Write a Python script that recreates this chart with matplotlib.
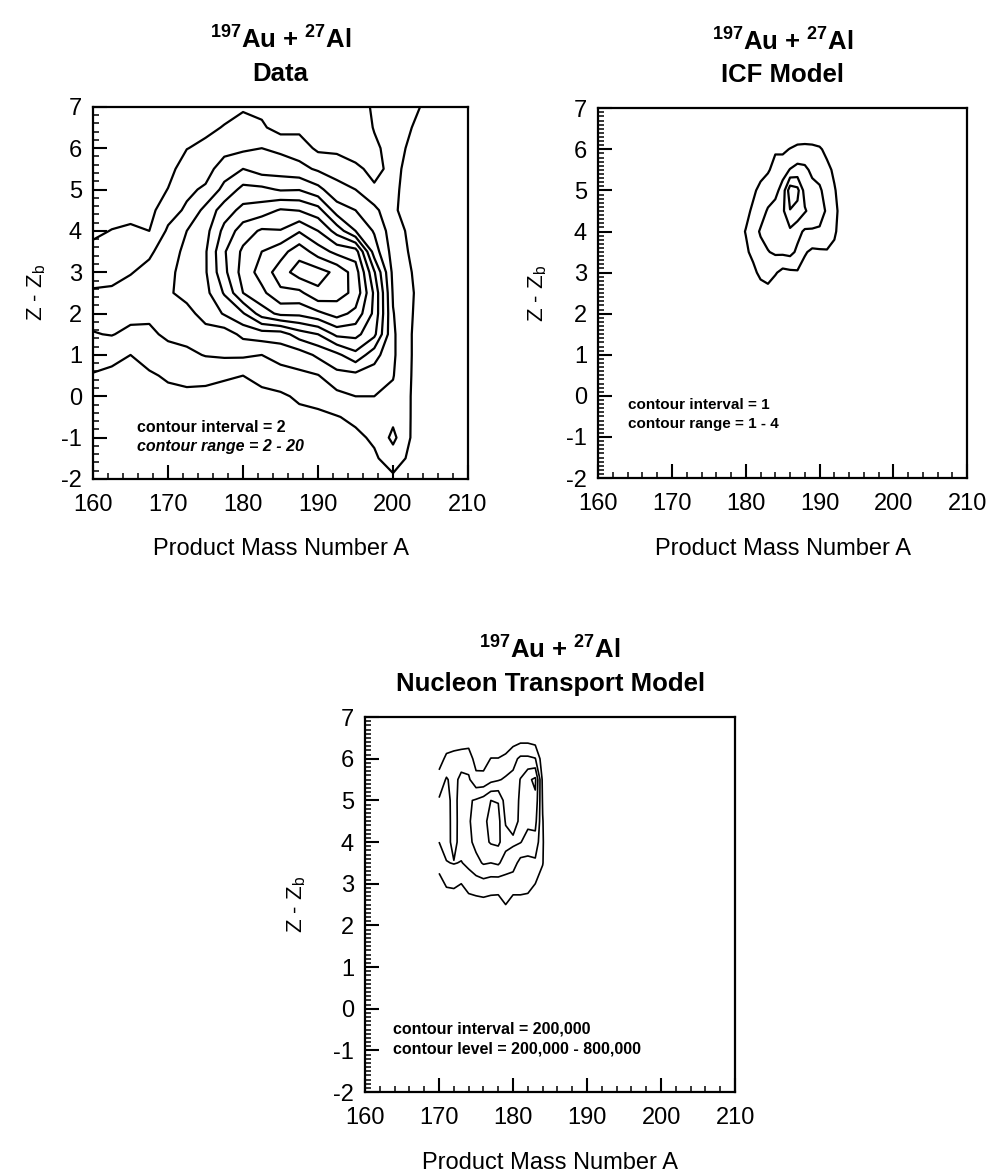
import numpy as np
import matplotlib
matplotlib.use('Agg')
import matplotlib.pyplot as plt
from matplotlib.ticker import MultipleLocator

plt.rcParams['font.family'] = 'Liberation Sans'
plt.rcParams['mathtext.fontset'] = 'custom'
plt.rcParams['mathtext.rm'] = 'Liberation Sans'
plt.rcParams['mathtext.bf'] = 'Liberation Sans:bold'
plt.rcParams['mathtext.it'] = 'Liberation Sans:italic'
plt.rcParams['axes.unicode_minus'] = False

# --- measured yields: one list per mass column, Z - Zb from -2 to 7 in steps of 0.5
data_mass = np.arange(160, 210.1, 2.5)
data_z = np.arange(-2, 7.01, 0.5)
data_counts = [
    [0.2, 0.3, 0.5, 0.8, 1.3, 1.85, 2.9, 3.9, 4.6, 4.2, 3.3, 2.4, 1.7, 1.2, 0.9, 0.6, 0.4, 0.3, 0.2],       # 160
    [0.2, 0.3, 0.5, 0.8, 1.2, 1.6, 2.5, 4.1, 4.8, 4.3, 3.4, 2.8, 2.05, 1.4, 1.0, 0.7, 0.5, 0.3, 0.2],      # 162.5
    [0.2, 0.3, 0.5, 0.8, 1.1, 1.5, 2.0, 3.5, 4.6, 4.7, 3.9, 3.0, 2.25, 1.5, 1.0, 0.7, 0.5, 0.3, 0.2],      # 165
    [0.2, 0.3, 0.6, 0.9, 1.3, 1.8, 2.6, 3.6, 4.4, 4.9, 4.5, 3.7, 2.0, 1.4, 1.0, 0.7, 0.5, 0.3, 0.2],       # 167.5
    [0.2, 0.4, 0.7, 1.1, 1.6, 2.2, 3.2, 4.4, 5.3, 5.8, 5.5, 4.9, 4.3, 3.2, 2.05, 1.4, 0.9, 0.6, 0.4],      # 170
    [0.2, 0.4, 0.8, 1.2, 1.6, 2.5, 3.6, 4.6, 5.5, 6.5, 6.8, 6.6, 6.0, 4.3, 3.6, 2.9, 1.95, 1.2, 0.7],      # 172.5
    [0.2, 0.4, 0.8, 1.2, 1.5, 2.5, 4.1, 5.4, 6.6, 7.4, 7.8, 7.8, 7.3, 6.6, 4.3, 3.2, 2.4, 1.6, 1.1],       # 175
    [0.2, 0.4, 0.8, 1.2, 1.4, 2.2, 4.3, 5.0, 8.2, 10.2, 11.5, 11.8, 10.6, 9.0, 6.6, 5.0, 3.3, 2.1, 1.4],   # 177.5
    [0.2, 0.4, 0.8, 1.3, 1.6, 2.0, 4.3, 6.5, 9.8, 14.0, 14.8, 14.4, 13.0, 10.6, 8.6, 6.0, 3.6, 2.6, 1.8],  # 180
    [0.2, 0.4, 0.8, 1.2, 1.6, 2.5, 4.0, 7.0, 13.0, 15.5, 16.8, 16.0, 14.3, 11.0, 8.5, 5.0, 4.0, 2.3, 1.5], # 182.5
    [0.2, 0.4, 0.7, 1.1, 1.7, 3.1, 4.8, 7.0, 14.5, 17.6, 19.0, 17.2, 14.1, 12.2, 7.8, 5.0, 3.6, 1.2, 0.8], # 185
    [0.2, 0.5, 0.9, 1.5, 2.3, 3.6, 5.0, 9.0, 14.5, 17.5, 21.0, 19.2, 15.8, 11.9, 7.9, 4.6, 3.0, 1.5, 0.9], # 187.5
    [0.2, 0.6, 1.1, 1.5, 2.8, 3.9, 6.4, 10.0, 15.5, 19.6, 20.8, 17.0, 14.0, 10.8, 6.6, 3.7, 1.6, 1.0, 0.7],# 190
    [0.3, 0.7, 1.2, 1.9, 3.4, 5.4, 7.5, 12.5, 16.8, 18.8, 19.5, 15.4, 11.2, 7.0, 4.6, 3.3, 1.5, 1.0, 0.7], # 192.5
    [0.3, 0.8, 1.6, 2.4, 4.0, 5.4, 9.4, 12.6, 15.4, 17.5, 17.0, 15.0, 8.0, 6.0, 4.0, 2.3, 1.3, 0.9, 0.7],  # 195
    [0.5, 1.7, 2.3, 3.0, 4.0, 5.0, 6.8, 10.5, 11.5, 11.6, 10.2, 7.0, 5.8, 4.6, 2.2, 1.6, 1.7, 2.1, 2.4],   # 197.5
    [1.6, 3.0, 4.5, 3.5, 3.6, 4.1, 4.3, 4.3, 4.1, 3.8, 3.5, 3.2, 2.9, 2.2, 2.3, 2.4, 2.6, 2.8, 3.0],       # 200
    [0.8, 1.5, 1.8, 1.9, 1.9, 1.95, 2.0, 2.0, 2.05, 2.1, 2.0, 1.7, 1.5, 1.4, 1.4, 1.5, 1.7, 2.0, 2.4],     # 202.5
    [0.5, 0.8, 1.0, 1.1, 1.1, 1.1, 1.2, 1.2, 1.2, 1.2, 1.1, 1.0, 0.9, 0.9, 0.9, 1.0, 1.1, 1.3, 1.5],       # 205
    [0.3, 0.5, 0.6, 0.7, 0.7, 0.7, 0.8, 0.8, 0.8, 0.8, 0.7, 0.7, 0.6, 0.6, 0.6, 0.7, 0.8, 0.9, 1.0],       # 207.5
    [0.2, 0.3, 0.4, 0.5, 0.5, 0.5, 0.5, 0.5, 0.5, 0.5, 0.5, 0.5, 0.4, 0.4, 0.4, 0.5, 0.5, 0.6, 0.7],       # 210
]
data_levels = [2, 4, 6, 8, 10, 12, 14, 16, 18, 20]

# --- ICF model: one list per Z - Zb row (2.5 .. 6.5), mass 178 .. 194
icf_mass = np.arange(178, 194.1, 1)
icf_z = np.arange(2.5, 6.51, 0.5)
icf_counts = [
    [0, 0, 0.1, 0.2, 0.4, 0.5, 0.3, 0.2, 0.2, 0.2, 0.1, 0.1, 0.1, 0.1, 0, 0, 0],
    [0, 0.1, 0.3, 0.7, 1.3, 1.6, 1.1, 0.7, 0.8, 0.9, 0.6, 0.4, 0.3, 0.3, 0.2, 0.1, 0],
    [0, 0.3, 0.8, 1.3, 1.7, 1.95, 2.15, 2.2, 2.3, 1.8, 1.1, 0.8, 0.85, 0.9, 0.7, 0.2, 0],
    [0, 0.6, 1.05, 1.6, 2.1, 2.4, 2.5, 2.7, 2.8, 2.3, 1.85, 1.9, 1.9, 1.7, 1.2, 0.4, 0],
    [0, 0.3, 0.7, 1.2, 1.6, 2.1, 2.4, 2.8, 3.95, 3.7, 3.1, 2.6, 2.3, 1.9, 1.3, 0.6, 0],
    [0, 0.1, 0.4, 0.8, 1.3, 1.5, 1.7, 2.4, 4.6, 4.3, 2.6, 2.3, 2.15, 1.6, 1.1, 0.5, 0],
    [0, 0.1, 0.2, 0.4, 0.6, 0.9, 1.3, 1.6, 2.05, 2.3, 2.2, 1.8, 1.6, 1.3, 0.8, 0.3, 0],
    [0, 0.1, 0.1, 0.2, 0.3, 0.5, 0.9, 0.8, 1.05, 1.3, 1.35, 1.3, 1.15, 0.7, 0.4, 0.1, 0],
    [0, 0, 0, 0, 0, 0, 0, 0, 0, 0, 0, 0, 0, 0, 0, 0, 0],
]
icf_levels = [1, 2, 3, 4]

# --- nucleon transport model: one list per mass column (170 .. 185), Z - Zb 2 .. 6.5, units of 1e5
nt_mass = np.arange(170, 185.1, 1)
nt_z = np.arange(2, 6.51, 0.5)
nt_counts = [
    [0.3, 0.6, 1.4, 2.6, 4.0, 4.5, 4.2, 2.7, 1.2, 0.4],   # 170
    [0.3, 1.0, 2.2, 3.9, 4.8, 5.1, 5.0, 4.2, 2.4, 0.8],   # 171
    [0.3, 1.0, 2.3, 4.1, 3.3, 3.0, 3.0, 3.3, 2.6, 1.0],   # 172
    [0.3, 0.9, 2.0, 3.9, 4.9, 5.2, 5.3, 4.6, 2.9, 0.9],   # 173
    [0.3, 1.1, 2.8, 4.5, 5.5, 5.8, 5.8, 4.3, 3.0, 1.0],   # 174
    [0.3, 1.2, 3.1, 5.4, 6.6, 6.7, 6.2, 2.6, 1.2, 0.4],   # 175
    [0.3, 1.3, 3.3, 6.2, 7.4, 7.6, 6.8, 2.5, 1.3, 0.4],   # 176
    [0.3, 1.2, 3.0, 6.0, 8.2, 8.5, 8.0, 3.4, 2.05, 0.6],  # 177
    [0.3, 1.2, 2.9, 6.3, 8.4, 8.6, 7.9, 3.8, 2.05, 0.6],  # 178
    [0.5, 2.0, 3.2, 5.0, 6.8, 5.8, 5.0, 4.3, 2.4, 0.7],   # 179
    [0.3, 1.3, 2.8, 4.9, 6.3, 5.4, 4.8, 4.5, 3.4, 1.0],   # 180
    [0.3, 1.3, 2.8, 3.3, 6.1, 6.3, 6.4, 6.1, 4.4, 1.2],   # 181
    [0.3, 1.3, 2.6, 3.4, 5.2, 6.5, 7.2, 7.6, 4.4, 1.2],   # 182
    [0.2, 0.9, 2.0, 3.6, 5.3, 6.6, 7.6, 8.4, 4.1, 0.9],   # 183
    [0.1, 0.4, 1.2, 2.1, 2.2, 2.1, 1.8, 1.5, 0.8, 0.3],   # 184
    [0, 0, 0, 0, 0, 0, 0, 0, 0, 0],                       # 185
]
nt_levels = [200000, 400000, 600000, 800000]

reaction = r'$^{\mathbf{197}}$Au + $^{\mathbf{27}}$Al'


def setup_axes(ax, yminor, ylabel_x):
    ax.set_xlim(160, 210)
    ax.set_ylim(-2, 7)
    ax.xaxis.set_major_locator(MultipleLocator(10))
    ax.xaxis.set_minor_locator(MultipleLocator(2))
    ax.yaxis.set_major_locator(MultipleLocator(1))
    ax.yaxis.set_minor_locator(MultipleLocator(yminor))
    ax.tick_params(which='both', direction='in', top=False, right=False, labelsize=17)
    ax.tick_params(which='major', length=10, width=1.5)
    ax.tick_params(which='minor', length=4.5, width=1.1)
    ax.tick_params(axis='x', pad=11)
    ax.tick_params(axis='y', pad=8)
    for s in ax.spines.values():
        s.set_linewidth(1.6)
    ax.set_xlabel('Product Mass Number A', fontsize=17, labelpad=16)
    ax.set_ylabel(r'Z - Z$_\mathrm{b}$', fontsize=16)
    ax.yaxis.set_label_coords(ylabel_x, 0.5)


def add_title(ax, subtitle):
    ax.annotate(reaction, xy=(0.5, 1), xycoords='axes fraction', xytext=(0, 48),
                textcoords='offset points', ha='center', va='center',
                fontsize=18.5, fontweight='bold')
    ax.annotate(subtitle, xy=(0.5, 1), xycoords='axes fraction', xytext=(0, 24),
                textcoords='offset points', ha='center', va='center',
                fontsize=18.5, fontweight='bold')


fig = plt.figure(figsize=(9.92, 11.74), dpi=100)

# measured data
ax1 = fig.add_axes([0.0938, 0.592, 0.378, 0.317])
ax1.contour(data_mass, data_z, np.array(data_counts).T, levels=data_levels,
            colors='black', linewidths=1.6)
setup_axes(ax1, 0.2, -0.12)
add_title(ax1, 'Data')
ax1.text(165.9, -0.75, 'contour interval = 2', fontsize=11.5, fontweight='bold', va='center')
ax1.text(165.9, -1.22, 'contour range = 2 - 20', fontsize=11.5, fontweight='bold',
         style='italic', va='center')

# ICF model
ax2 = fig.add_axes([0.603, 0.5928, 0.372, 0.315])
ax2.contour(icf_mass, icf_z, np.array(icf_counts), levels=icf_levels,
            colors='black', linewidths=1.6)
setup_axes(ax2, 0.1, -0.133)
add_title(ax2, 'ICF Model')
ax2.text(164.1, -0.23, 'contour interval = 1', fontsize=11, fontweight='bold', va='center')
ax2.text(164.1, -0.68, 'contour range = 1 - 4', fontsize=11, fontweight='bold', va='center')

# nucleon transport model
ax3 = fig.add_axes([0.368, 0.0698, 0.373, 0.3194])
ax3.contour(nt_mass, nt_z, np.array(nt_counts).T * 1e5, levels=nt_levels,
            colors='black', linewidths=1.2)
setup_axes(ax3, 0.1, -0.155)
add_title(ax3, 'Nucleon Transport Model')
ax3.text(163.8, -0.49, 'contour interval = 200,000', fontsize=11.5, fontweight='bold', va='center')
ax3.text(163.8, -0.97, 'contour level = 200,000 - 800,000', fontsize=11.5, fontweight='bold',
         va='center')

fig.savefig('out.png', dpi=100)
